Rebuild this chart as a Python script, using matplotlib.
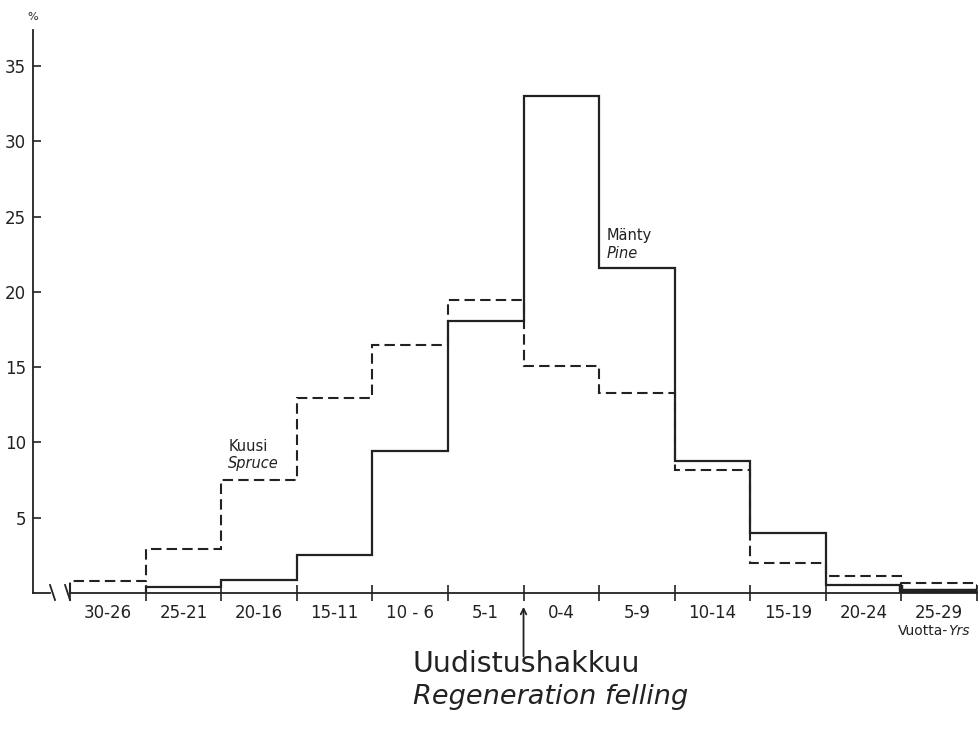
import numpy as np
import matplotlib.pyplot as plt

# age classes relative to regeneration felling (years)
classes = ["30-26", "25-21", "20-16", "15-11", "10 - 6", "5-1",
           "0-4", "5-9", "10-14", "15-19", "20-24", "25-29"]
# share of seedlings, %
pine = [0.0, 0.4, 0.85, 2.5, 9.4, 18.05, 33.0, 21.6, 8.8, 4.0, 0.55, 0.1]
spruce = [0.8, 2.9, 7.5, 12.95, 16.5, 19.45, 15.1, 13.3, 8.15, 2.0, 1.15, 0.65]
yticks = [5, 10, 15, 20, 25, 30, 35]

W, H = 979, 730
fig = plt.figure(figsize=(W / 100, H / 100), dpi=100)
plt.rcParams['font.family'] = ['DejaVu Sans']
ink = '#222222'

# axes box in pixels
x0_px, x1_px, y0_px, y1_px = 33, 977, 593, 30
ax = fig.add_axes([x0_px / W, 1 - y0_px / H, (x1_px - x0_px) / W, (y0_px - y1_px) / H])
bin_px = 75.5
xmin = -(70 - x0_px) / bin_px
ax.set_xlim(xmin, len(classes))
ymax = 37.4
ax.set_ylim(0, ymax)
ppu_y = (y0_px - y1_px) / ymax  # px per % unit

def dx(px):
    return px / bin_px

def dy(px):
    return px / ppu_y

edges = np.arange(len(classes) + 1)

# pine: solid, starts at second class
ax.stairs(pine[1:-1], edges[1:-1], baseline=0, color=ink, lw=1.6, fill=False)
ax.plot([edges[-2], edges[-2], edges[-1], edges[-1]], [pine[-2], pine[-1], pine[-1], 0],
        color=ink, lw=3.2, solid_capstyle='butt')
# spruce: dashed
ax.stairs(spruce, edges, baseline=0, color=ink, lw=1.5, ls=(0, (5, 2.5)), fill=False)

# spines
for s in ['top', 'right', 'bottom']:
    ax.spines[s].set_visible(False)
ax.spines['left'].set_color(ink)
ax.spines['left'].set_linewidth(1.3)

# broken x axis line
kw = dict(color=ink, lw=1.3, clip_on=False)
ax.plot([xmin, dx(50 - 70)], [0, 0], **kw)
ax.plot([0, len(classes)], [0, 0], **kw)
for sx in [50, 65]:
    ax.plot([dx(sx - 70), dx(sx + 5 - 70)], [dy(8), dy(-7)], **kw)

# ticks
ax.set_yticks(yticks)
ax.set_yticklabels([str(v) for v in yticks])
ax.tick_params(axis='y', direction='in', length=6, width=1.2, color=ink,
               labelsize=12, labelcolor=ink, pad=5)
ax.set_xticks(edges)
ax.set_xticklabels([''] * len(edges))
ax.set_xticks(edges[:-1] + 0.5, minor=True)
ax.set_xticklabels(classes, minor=True)
ax.tick_params(axis='x', which='major', direction='inout', length=11, width=1.2, color=ink)
ax.tick_params(axis='x', which='minor', length=0, labelsize=12, labelcolor=ink, pad=8)

# annotations
fig.text(33 / W, 1 - 17 / H, '%', fontsize=8, color=ink, ha='center', va='center')
ax.text(dx(228 - 70), 9.76, 'Kuusi', fontsize=10.5, color=ink, ha='left', va='center')
ax.text(dx(228 - 70), 8.6, 'Spruce', fontsize=10.5, color=ink, style='italic',
        ha='left', va='center')
ax.text(dx(606 - 70), 23.77, 'Mänty', fontsize=10.5, color=ink, ha='left', va='center')
ax.text(dx(606 - 70), 22.55, 'Pine', fontsize=10.5, color=ink, style='italic',
        ha='left', va='center')

t = fig.text(898 / W, 1 - 631 / H, 'Vuotta-', fontsize=10, color=ink, ha='left', va='center')
ax.annotate('Yrs', xy=(1, 0.5), xycoords=t, fontsize=10, color=ink, style='italic',
            ha='left', va='center', annotation_clip=False)

# regeneration felling arrow at class boundary
ax.annotate('', xy=(6, dy(-11)), xytext=(6, dy(-66)), xycoords='data',
            arrowprops=dict(arrowstyle='->', color=ink, lw=1.3), annotation_clip=False)
fig.text(413 / W, 1 - 664 / H, 'Uudistushakkuu', fontsize=20.5, color=ink,
         ha='left', va='center')
fig.text(413 / W, 1 - 697 / H, 'Regeneration felling', fontsize=19.5, color=ink,
         style='italic', ha='left', va='center')

fig.savefig('out.png', dpi=100)
